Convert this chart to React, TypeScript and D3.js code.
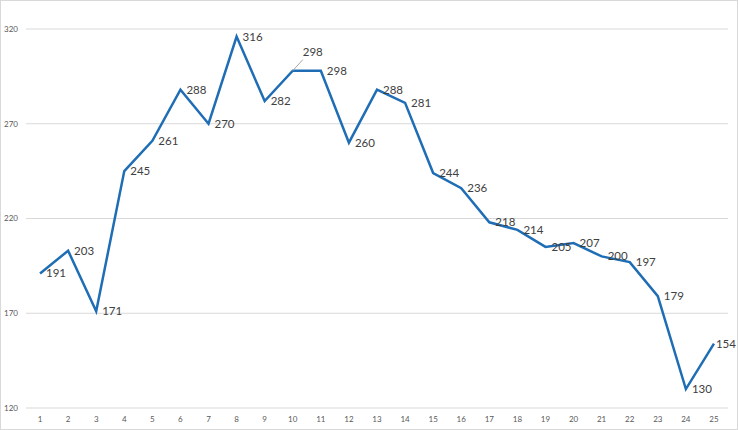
import { useRef, useEffect } from 'react'
import * as d3 from 'd3'

const categories = Array.from({ length: 25 }, (_, i) => String(i + 1))
const values = [191, 203, 171, 245, 261, 288, 270, 316, 282, 298, 298, 260, 288, 281, 244, 236, 218, 214, 205, 207, 200, 197, 179, 130, 154]
const yTicks = [120, 170, 220, 270, 320]

const WIDTH = 738
const HEIGHT = 430

export default function App() {
  const svgRef = useRef<SVGSVGElement>(null)

  useEffect(() => {
    if (!svgRef.current) return
    const svg = d3.select(svgRef.current)
    svg.selectAll('*').remove()

    const left = 26
    const right = 728
    const top = 29
    const bottom = 408

    svg.append('rect')
      .attr('x', 0.5).attr('y', 0.5)
      .attr('width', WIDTH - 1).attr('height', HEIGHT - 1)
      .attr('fill', '#fff')
      .attr('stroke', '#d9d9d9')

    const x = d3.scaleBand<string>().domain(categories).range([left, right])
    const y = d3.scaleLinear().domain([120, 320]).range([bottom, top])
    const cx = (i: number) => (x(categories[i]) ?? 0) + x.bandwidth() / 2
    const last = values.length - 1

    // gridlines
    svg.append('g')
      .selectAll('line')
      .data(yTicks)
      .join('line')
      .attr('x1', left).attr('x2', right)
      .attr('y1', d => y(d)).attr('y2', d => y(d))
      .attr('stroke', '#d9d9d9')
      .attr('stroke-width', 1)

    svg.append('g')
      .selectAll('text')
      .data(yTicks)
      .join('text')
      .attr('x', 18)
      .attr('y', d => y(d))
      .attr('dy', '0.35em')
      .attr('text-anchor', 'end')
      .attr('font-size', 8)
      .attr('fill', '#595959')
      .attr('font-family', 'Lato, "Open Sans", sans-serif')
      .text(d => d)

    svg.append('g')
      .selectAll('text')
      .data(categories)
      .join('text')
      .attr('x', (_, i) => cx(i))
      .attr('y', 422)
      .attr('text-anchor', 'middle')
      .attr('font-size', 8)
      .attr('fill', '#595959')
      .attr('font-family', 'Lato, "Open Sans", sans-serif')
      .text(d => d)

    const line = d3.line<number>()
      .x((_, i) => cx(i))
      .y(d => y(d))

    svg.append('path')
      .datum(values)
      .attr('fill', 'none')
      .attr('stroke', '#1f6eb5')
      .attr('stroke-width', 2.5)
      .attr('stroke-linejoin', 'miter')
      .attr('d', line)

    // leader line for the 10th label
    svg.append('line')
      .attr('x1', cx(9)).attr('y1', y(values[9]))
      .attr('x2', cx(9) + 10).attr('y2', y(values[9]) - 11)
      .attr('stroke', '#a6a6a6')
      .attr('stroke-width', 1)

    svg.append('g')
      .selectAll('text')
      .data(values)
      .join('text')
      .attr('x', (_, i) => (i === 9 ? cx(i) + 20 : i === last ? cx(i) + 2 : cx(i) + 6))
      .attr('y', (d, i) => (i === 9 ? y(d) - 19 : y(d)))
      .attr('dy', '0.35em')
      .attr('text-anchor', (_, i) => (i === 9 ? 'middle' : 'start'))
      .attr('font-size', 11.5)
      .attr('fill', '#404040')
      .attr('font-family', 'Lato, "Open Sans", sans-serif')
      .text(d => d)
  }, [])

  return (
    <svg
      ref={svgRef}
      width={WIDTH}
      height={HEIGHT}
      style={{ position: 'fixed', left: 0, top: 0 }}
    />
  )
}
